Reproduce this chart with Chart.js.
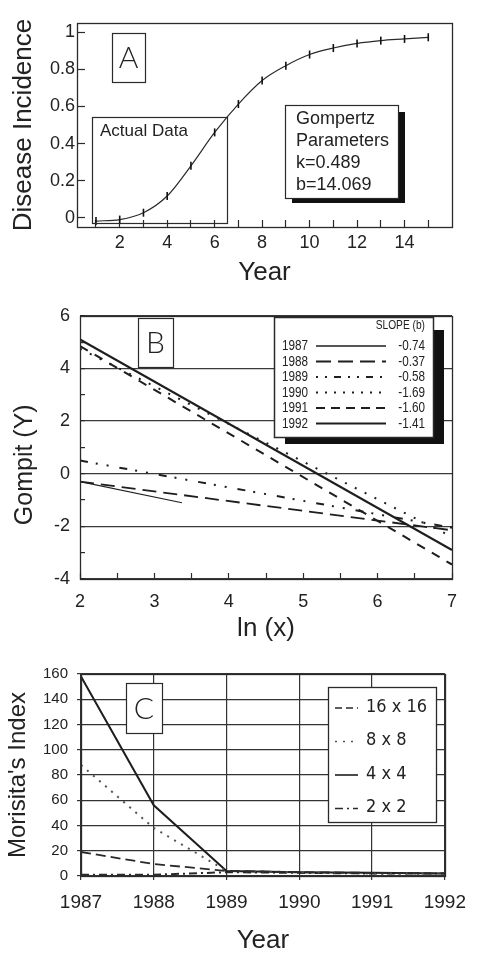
<!DOCTYPE html>
<html lang="en">
<head>
<meta charset="UTF-8">
<title>Gompertz, Gompit and Morisita panels</title>
<style>
  body { margin: 0; background: #fff; }
  .panel { position: absolute; left: 0; width: 477px; }
  #pa { top: 0; }
  #pb { top: 290px; }
  #pc { top: 645px; }
</style>
</head>
<body>
<div class="panel" id="pa"><canvas id="chartA" width="477" height="290"></canvas></div>
<div class="panel" id="pb"><canvas id="chartB" width="477" height="355"></canvas></div>
<div class="panel" id="pc"><canvas id="chartC" width="477" height="311"></canvas></div>

<script src="https://cdn.jsdelivr.net/npm/chart.js"></script>
<script>
// ---- panel A : disease progress ----
var yearA = [1, 2, 3, 4, 5, 6, 7, 8, 9, 10, 11, 12, 13, 14, 15];
var incidence = [-0.018, -0.01, 0.027, 0.117, 0.28, 0.46, 0.613, 0.74, 0.82, 0.88, 0.915, 0.94, 0.955, 0.964, 0.973];
var aXTicks = [1, 2, 3, 4, 5, 6, 7, 8, 9, 10, 11, 12, 13, 14, 15];
var aYTicks = [0, 0.2, 0.4, 0.6, 0.8, 1];
var gompertzText = ['Gompertz', 'Parameters', 'k=0.489', 'b=14.069'];

// ---- panel B : gompit lines (two end points each) ----
var lnxFull = [2, 7];
var lnx1987 = [2, 3.37];
var gompit1987 = [-0.3, -1.1];
var gompit1988 = [-0.3, -2.15];
var gompit1989 = [0.5, -2.05];
var gompit1990 = [4.75, -2.4];
var gompit1991 = [4.85, -3.45];
var gompit1992 = [5.1, -2.9];
var bYears = ['1987', '1988', '1989', '1990', '1991', '1992'];
var bSlopes = ['-0.74', '-0.37', '-0.58', '-1.69', '-1.60', '-1.41'];
var bXTicks = [2, 2.5, 3, 3.5, 4, 4.5, 5, 5.5, 6, 6.5, 7];
var bYTicks = [-4, -3, -2, -1, 0, 1, 2, 3, 4, 5, 6];

// ---- panel C : Morisita's index ----
var cYears = ['1987', '1988', '1989', '1990', '1991', '1992'];
var mor16 = [19, 9.5, 4, 3, 2.5, 2];
var mor8 = [88, 38, 4, 3, 2, 2];
var mor4 = [158, 56, 4, 3, 2.5, 2];
var mor2 = [1, 1, 3, 2.5, 2, 2];
var cLegend = ['16 x 16', '8 x 8', '4 x 4', '2 x 2'];

Chart.defaults.font.family = '"Liberation Sans", Arial, sans-serif';
Chart.defaults.color = '#222';

var INK = '#2a2a2a';
var LETTER_FONT = '300 30px Lato, "DejaVu Sans", sans-serif';

function toPairs(xs, ys) {
    return xs.map(function (x, i) { return {x: x, y: ys[i]}; });
}

var frame = { // box round the plot area
    id: 'frame',
    afterDatasetsDraw: function (chart) {
        var a = chart.chartArea, c = chart.ctx;
        c.save();
        c.strokeStyle = INK;
        c.lineWidth = 1.3;
        c.strokeRect(Math.round(a.left) + 0.5, Math.round(a.top) + 0.5, Math.round(a.right - a.left), Math.round(a.bottom - a.top));
        c.restore();
    }
};

function letterBox(c, letter, x, y, w, h) {
    c.fillStyle = '#fff';
    c.fillRect(x, y, w, h);
    c.strokeStyle = INK;
    c.lineWidth = 1.2;
    c.strokeRect(x + 0.5, y + 0.5, w, h);
    c.fillStyle = '#222';
    c.font = LETTER_FONT;
    c.textAlign = 'center';
    c.textBaseline = 'middle';
    c.fillText(letter, x + w / 2, y + h / 2 + 1);
}

// narrow lettering for the slope legend
function narrowText(c, txt, x, y, align, sx) {
    c.save();
    c.translate(x, y);
    c.scale(sx, 1);
    c.textAlign = align;
    c.fillText(txt, 0, 0);
    c.restore();
}

// ================= A =================
var annotA = {
    id: 'annotA',
    afterDraw: function (chart) {
        var c = chart.ctx;
        c.save();
        letterBox(c, 'A', 112, 33, 33, 49);
        c.strokeStyle = INK;
        c.strokeRect(92.5, 117.5, 135, 106);
        c.fillStyle = '#222';
        c.font = '17px "Liberation Sans", Arial, sans-serif';
        c.textAlign = 'left';
        c.textBaseline = 'middle';
        c.fillText('Actual Data', 100, 131);
        c.fillStyle = '#111';
        c.fillRect(292, 112, 113, 91);
        c.fillStyle = '#fff';
        c.fillRect(285, 105, 113, 93);
        c.strokeRect(285.5, 105.5, 113, 93);
        c.fillStyle = '#222';
        c.font = '18px "Liberation Sans", Arial, sans-serif';
        gompertzText.forEach(function (t, i) { c.fillText(t, 296, 119 + i * 22); });
        c.restore();
    }
};

new Chart(document.getElementById('chartA'), {
    type: 'line',
    data: {
        datasets: [{
            data: toPairs(yearA, incidence),
            borderColor: INK,
            borderWidth: 1.2,
            cubicInterpolationMode: 'monotone',
            pointStyle: 'line',
            rotation: 90,
            pointRadius: 4,
            pointBorderWidth: 1.6,
            pointBorderColor: '#111'
        }]
    },
    options: {
        responsive: false,
        animation: false,
        layout: {padding: {top: 23, right: 25, left: 0, bottom: 0}},
        plugins: {legend: {display: false}, tooltip: {enabled: false}},
        scales: {
            x: {
                type: 'linear', min: 0.2, max: 16,
                afterBuildTicks: function (s) { s.ticks = aXTicks.map(function (v) { return {value: v}; }); },
                afterFit: function (s) { s.height = 63; },
                border: {display: false},
                grid: {drawOnChartArea: false, tickLength: -7, tickColor: INK, tickWidth: 1.2},
                ticks: {
                    padding: 12, maxRotation: 0, autoSkip: false,
                    font: {size: 18}, color: '#222',
                    callback: function (v) { return v % 2 === 0 ? String(v) : ''; }
                },
                title: {display: true, text: 'Year', font: {size: 26}, color: '#222', padding: {top: 0, bottom: 2}}
            },
            y: {
                min: -0.05, max: 1.05,
                afterBuildTicks: function (s) { s.ticks = aYTicks.map(function (v) { return {value: v}; }); },
                afterFit: function (s) { s.width = 77; },
                border: {display: false},
                grid: {drawOnChartArea: false, tickLength: -8, tickColor: INK, tickWidth: 1.2},
                ticks: {
                    padding: 10, font: {size: 18}, color: '#222',
                    callback: function (v) { return String(Math.round(v * 10) / 10); }
                },
                title: {display: true, text: 'Disease Incidence', font: {size: 26}, color: '#222', padding: {top: 8, bottom: 0}}
            }
        }
    },
    plugins: [frame, annotA]
});

// ================= B =================
var bStyles = [
    {w: 1.1, dash: []},
    {w: 1.8, dash: [14, 7]},
    {w: 2, dash: [8, 8, 2, 9, 2, 11]},
    {w: 2, dash: [2, 9]},
    {w: 2, dash: [9, 8]},
    {w: 2.2, dash: []}
];
var bLegendDash = [[], [15, 7], [2, 7, 2, 7, 7, 7], [2, 7], [9, 6], []];
var bSeries = [
    toPairs(lnx1987, gompit1987),
    toPairs(lnxFull, gompit1988),
    toPairs(lnxFull, gompit1989),
    toPairs(lnxFull, gompit1990),
    toPairs(lnxFull, gompit1991),
    toPairs(lnxFull, gompit1992)
];

var annotB = {
    id: 'annotB',
    afterDraw: function (chart) {
        var c = chart.ctx;
        c.save();
        letterBox(c, 'B', 138, 28, 35, 49);
        // legend with shadow
        c.fillStyle = '#111';
        c.fillRect(285, 40, 159, 114);
        c.fillStyle = '#fff';
        c.fillRect(274, 27, 159, 120);
        c.strokeStyle = INK;
        c.lineWidth = 1.5;
        c.strokeRect(274.5, 27.5, 159, 120);
        c.fillStyle = '#222';
        c.textBaseline = 'middle';
        c.font = '12px "Liberation Sans", Arial, sans-serif';
        narrowText(c, 'SLOPE (b)', 425, 36, 'right', 0.85);
        c.font = '15px "Liberation Sans", Arial, sans-serif';
        chart.data.datasets.forEach(function (ds, i) {
            var y = 56 + i * 15.5;
            narrowText(c, bYears[i], 282, y, 'left', 0.78);
            narrowText(c, bSlopes[i], 425, y, 'right', 0.78);
            c.save();
            c.strokeStyle = ds.borderColor;
            c.lineWidth = Math.max(ds.borderWidth, 1.4);
            c.setLineDash(bLegendDash[i]);
            c.beginPath();
            c.moveTo(316, y);
            c.lineTo(386, y);
            c.stroke();
            c.restore();
        });
        c.restore();
    }
};

new Chart(document.getElementById('chartB'), {
    type: 'line',
    data: {
        datasets: bSeries.map(function (pts, i) {
            return {
                label: bYears[i],
                data: pts,
                borderColor: '#1e1e1e',
                borderWidth: bStyles[i].w,
                borderDash: bStyles[i].dash,
                pointRadius: 0,
                tension: 0
            };
        })
    },
    options: {
        responsive: false,
        animation: false,
        layout: {padding: {top: 23, right: 25, left: 0, bottom: 0}},
        plugins: {legend: {display: false}, tooltip: {enabled: false}},
        scales: {
            x: {
                type: 'linear', min: 2, max: 7,
                afterBuildTicks: function (s) { s.ticks = bXTicks.map(function (v) { return {value: v}; }); },
                afterFit: function (s) { s.height = 66; },
                border: {display: false},
                grid: {drawOnChartArea: false, tickLength: -6, tickColor: INK, tickWidth: 1.2},
                ticks: {
                    padding: 18, maxRotation: 0, autoSkip: false,
                    font: {size: 18}, color: '#222',
                    callback: function (v) { return Number.isInteger(v) ? String(v) : ''; }
                },
                title: {display: true, text: 'ln (x)', font: {size: 26}, color: '#222', padding: {top: 0, bottom: 1}}
            },
            y: {
                min: -4, max: 6,
                afterBuildTicks: function (s) { s.ticks = bYTicks.map(function (v) { return {value: v}; }); },
                afterFit: function (s) { s.width = 80; },
                border: {display: false},
                grid: {
                    tickLength: -5, tickColor: INK, tickWidth: 1.2, lineWidth: 1.2,
                    color: function (ctx) { return ctx.tick && ctx.tick.value % 2 === 0 ? '#3a3a3a' : 'rgba(0,0,0,0)'; }
                },
                ticks: {
                    padding: 15, font: {size: 18}, color: '#222',
                    callback: function (v) { return v % 2 === 0 ? String(v) : ''; }
                },
                title: {display: true, text: 'Gompit (Y)     ', font: {size: 25}, color: '#222', padding: {top: 10, bottom: 0}}
            }
        }
    },
    plugins: [frame, annotB]
});

// ================= C =================
var cStyles = [
    {data: mor16, w: 1.8, dash: [10, 5], color: '#2a2a2a'},
    {data: mor8, w: 2, dash: [2, 6], color: '#555'},
    {data: mor4, w: 2, dash: [], color: '#1e1e1e'},
    {data: mor2, w: 2, dash: [8, 4, 2, 4], color: '#2a2a2a'}
];

var annotC = {
    id: 'annotC',
    afterDraw: function (chart) {
        var c = chart.ctx;
        c.save();
        letterBox(c, 'C', 126, 38, 36, 50);
        c.fillStyle = '#fff';
        c.fillRect(328, 42, 108, 135);
        c.strokeStyle = INK;
        c.lineWidth = 1.3;
        c.strokeRect(328.5, 42.5, 108, 135);
        c.fillStyle = '#222';
        c.font = '18px "DejaVu Sans Condensed", "DejaVu Sans", sans-serif';
        c.textAlign = 'left';
        c.textBaseline = 'middle';
        chart.data.datasets.forEach(function (ds, i) {
            var y = 62 + i * 33.5;
            c.fillText(cLegend[i], 366, y);
            c.save();
            c.strokeStyle = ds.borderColor;
            c.lineWidth = 1.6;
            c.setLineDash(i === 0 ? [7, 4] : ds.borderDash);
            c.beginPath();
            c.moveTo(335, y + 1);
            c.lineTo(358, y + 1);
            c.stroke();
            c.restore();
        });
        c.restore();
    }
};

new Chart(document.getElementById('chartC'), {
    type: 'line',
    data: {
        labels: cYears,
        datasets: cStyles.map(function (s, i) {
            return {
                label: cLegend[i],
                data: s.data,
                borderColor: s.color,
                borderWidth: s.w,
                borderDash: s.dash,
                pointRadius: 0,
                tension: 0
            };
        })
    },
    options: {
        responsive: false,
        animation: false,
        layout: {padding: {top: 29, right: 25, left: 0, bottom: 0}},
        plugins: {legend: {display: false}, tooltip: {enabled: false}},
        scales: {
            x: {
                offset: false,
                afterFit: function (s) { s.height = 80; },
                border: {display: false},
                grid: {color: '#333', lineWidth: 1.2, tickLength: 4, tickColor: '#333'},
                ticks: {padding: 11, maxRotation: 0, autoSkip: false, font: {size: 19}, color: '#222'},
                title: {display: true, text: 'Year', font: {size: 26}, color: '#222', padding: {top: 0, bottom: 0}}
            },
            y: {
                min: 0, max: 160,
                ticks: {stepSize: 20, padding: 9, font: {size: 15}, color: '#222'},
                afterFit: function (s) { s.width = 81; },
                border: {display: false},
                grid: {color: '#333', lineWidth: 1.2, tickLength: 4, tickColor: '#333'},
                title: {display: true, text: "Morisita's Index", font: {size: 24}, color: '#222', padding: {top: 4, bottom: 0}}
            }
        }
    },
    plugins: [frame, annotC]
});
</script>
</body>
</html>
